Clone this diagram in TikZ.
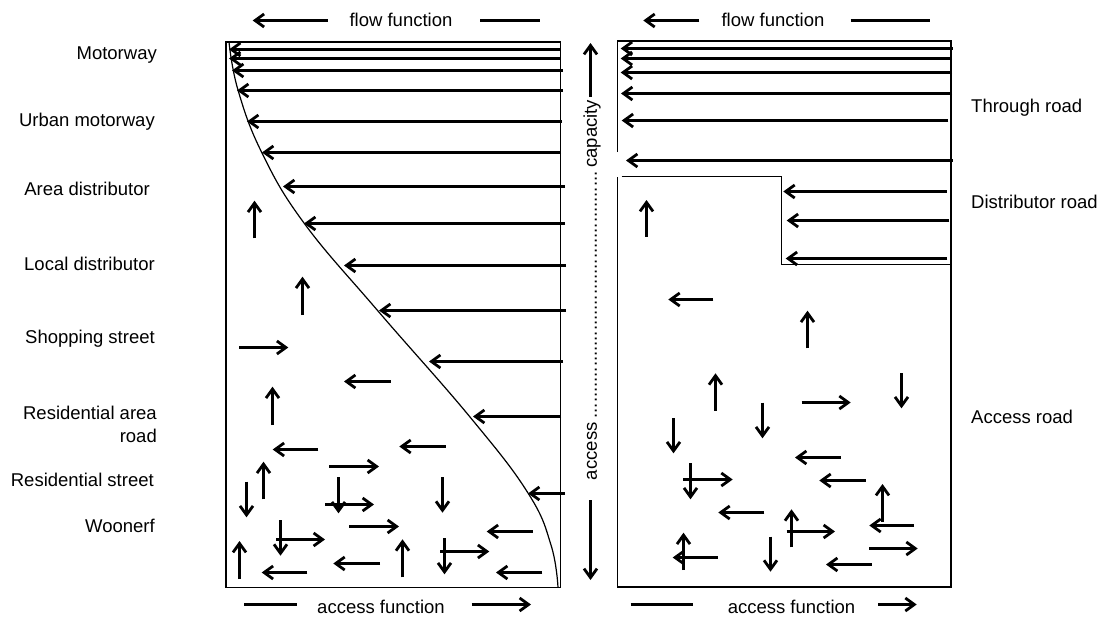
\documentclass[tikz,border=0pt]{standalone}
\usepackage{fontspec}
\setmainfont{Liberation Sans}
\usetikzlibrary{arrows.meta}
\newcommand\harr[3]{\pgfmathsetmacro\snapv{floor(#1)+0.5}\draw[arr] (#2,\snapv) -- (#3,\snapv);}
\newcommand\varr[3]{\pgfmathsetmacro\snapv{floor(#1)+0.5}\draw[arr] (\snapv,#2) -- (\snapv,#3);}
\begin{document}
\begin{tikzpicture}[x=1pt,y=-1pt,
  arr/.style={line width=2.8pt, -{Straight Barb[length=9pt,width=13pt,line width=2.8pt]}},
  bar/.style={line width=2.8pt},
  thinl/.style={line width=1.2pt},
  lab/.style={font=\fontsize{18.5}{23}\selectfont, inner sep=0pt}]
\useasboundingbox (0,0) rectangle (1100,624);

% ---------- left labels
\node[lab, anchor=mid east] (l1) at (157,57) {Motorway};
\node[lab, anchor=mid east] (l2) at (155,124) {Urban motorway};
\node[lab, anchor=mid east] (l3) at (150,193) {Area distributor};
\node[lab, anchor=mid east] (l4) at (155,268) {Local distributor};
\node[lab, anchor=mid east] (l5) at (155,341) {Shopping street};
\node[lab, anchor=east, align=right] (l6) at (157,424) {Residential area\\road};
\node[lab, anchor=mid east] (l7) at (154,484) {Residential street};
\node[lab, anchor=mid east] (l8) at (155,530) {Woonerf};

% ---------- right labels
\node[lab, anchor=mid west] (r1) at (971,110) {Through road};
\node[lab, anchor=mid west] (r2) at (971,206) {Distributor road};
\node[lab, anchor=mid west] (r3) at (971,421) {Access road};

% ---------- top / bottom captions
\node[lab] (ffl) at (401,20) {flow function};
\harr{20.7}{327.7}{252.7}
\draw[bar] (480,20.5) -- (540,20.5);
\node[lab] (ffr) at (773,20) {flow function};
\harr{20.7}{699.3}{643.3}
\draw[bar] (850.7,20.5) -- (930,20.5);

\node[lab] (afl) at (381,607) {access function};
\draw[bar] (244.3,604.5) -- (296.7,604.5);
\harr{604}{471.7}{531}
\node[lab] (afr) at (791.5,607) {access function};
\draw[bar] (630.7,604.5) -- (692.7,604.5);
\harr{604}{878}{916.7}

% ---------- middle axis
\node[lab, rotate=90] (axis) at (592,290)
  {\makebox[380pt]{access\leaders\hbox to 5.14pt{\hss.\hss}\hfill capacity}};
\varr{590.7}{97}{43}
\varr{590.7}{500}{580}

% ---------- left panel
\draw[thinl] (226,42) rectangle (560.5,587.5);
\draw[thinl] plot[smooth, tension=0.7] coordinates {
 (229,42) (238,90) (262,153) (304,223) (378,311) (470,417) (528,493)
 (551,545) (558,587.5)};
\harr{49.3}{560}{229}
\harr{58}{560}{229}
\harr{70.7}{563}{232}
\harr{90}{563}{237}
\harr{121.3}{562}{247}
\harr{152.7}{561}{262}
\harr{186}{565}{283}
\harr{223.3}{565}{304}
\harr{265.7}{566}{344}
\harr{310.7}{566}{379}
\harr{361.7}{563}{429}
\harr{416.7}{561}{473}
\harr{493.3}{565}{528}
% small arrows left
\harr{347.3}{239.3}{288.3}
\harr{381.3}{390.7}{344}
\harr{449}{318.3}{272.7}
\harr{446.3}{445.7}{399.3}
\harr{466.3}{329.3}{379}
\harr{504}{325}{374}
\harr{526.7}{349.3}{399}
\harr{539.3}{276}{325}
\harr{531}{532.7}{486.7}
\harr{563.3}{380}{333.3}
\harr{551}{440}{489.3}
\harr{572.7}{307.3}{261.7}
\harr{572}{542.3}{496}
\varr{254.3}{238.3}{200.7}
\varr{302}{315}{276.7}
\varr{272.7}{425}{386.7}
\varr{263.3}{499.3}{461.7}
\varr{246.7}{481.7}{517.3}
\varr{338.3}{477.3}{513.3}
\varr{442.7}{477.3}{512.7}
\varr{280}{520}{555.7}
\varr{239.3}{579}{541}
\varr{402.7}{577.3}{539.3}
\varr{444.3}{538.3}{574.3}

% ---------- right panel
\draw[thinl] (617.7,152) -- (617.7,41) -- (951,41) -- (951,587) -- (617.7,587) -- (617.7,177);
\draw[thinl] (621.7,176.7) -- (781.7,176.7) -- (781.7,264.3) -- (951,264.3);
\harr{48.3}{952.7}{620.7}
\harr{58.3}{952}{620.7}
\harr{72.7}{952}{620.7}
\harr{93.3}{952}{621}
\harr{120}{948.3}{621.7}
\harr{160.7}{952.7}{626}
\harr{191}{946.7}{783.3}
\harr{220.7}{949.3}{786.7}
\harr{258.3}{947.3}{785.7}
% small arrows right
\harr{299.3}{713.3}{668.3}
\harr{402.7}{801.7}{850.7}
\harr{457.3}{840.7}{795}
\harr{479}{683.3}{732.7}
\harr{480}{865.7}{819.3}
\harr{512.3}{764.3}{718.3}
\harr{531}{786.7}{835}
\harr{525.7}{914}{869.3}
\harr{548.3}{869.3}{917.7}
\harr{557.3}{717.7}{672.7}
\harr{564.3}{871.7}{826}
\varr{646.7}{236.7}{200}
\varr{807.3}{348.3}{310.7}
\varr{715}{410.7}{373.3}
\varr{901.7}{373.3}{408.3}
\varr{762.7}{402.7}{438.3}
\varr{673.3}{418.3}{453.3}
\varr{690.7}{463.3}{499.3}
\varr{882.7}{521.7}{484}
\varr{791.7}{547.3}{509.3}
\varr{683.3}{570}{532.7}
\varr{770.7}{536.7}{571.7}
\end{tikzpicture}
\end{document}
